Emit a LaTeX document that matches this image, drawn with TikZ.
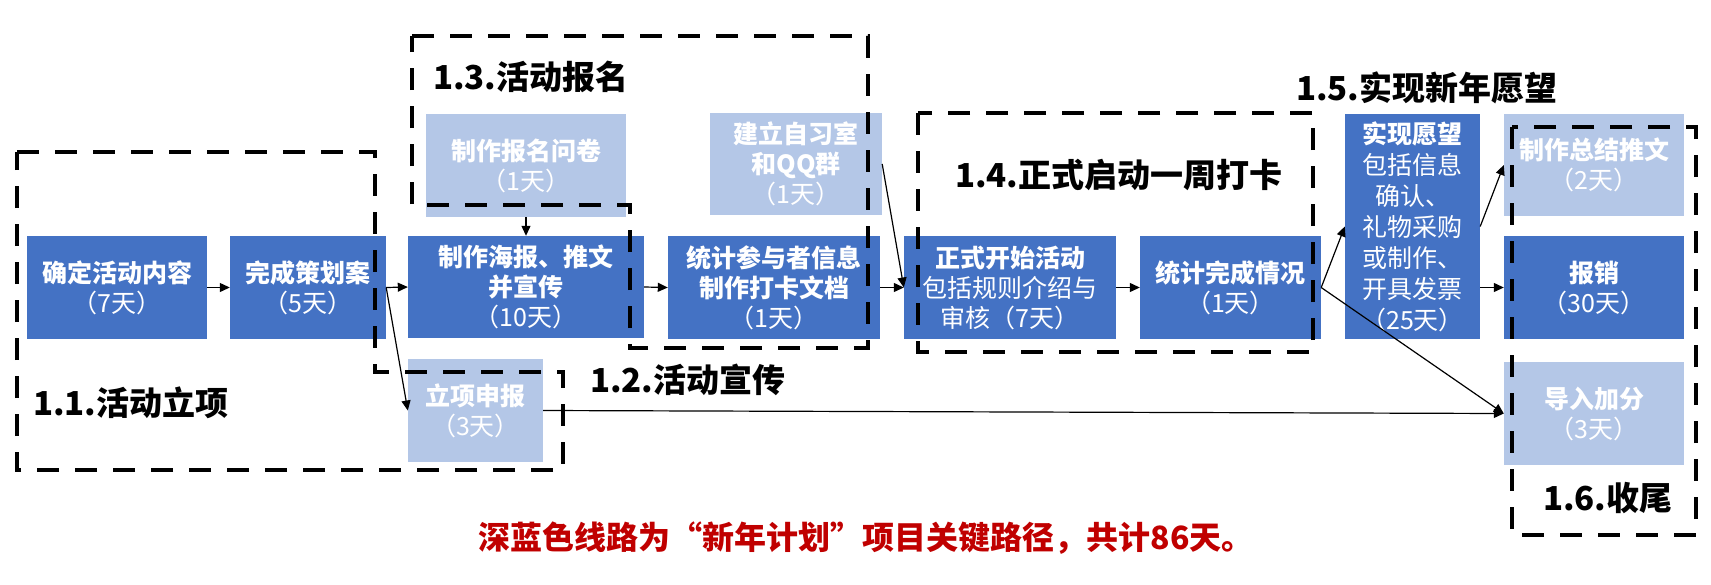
\documentclass[tikz,border=0pt]{standalone}
\usepackage{fontspec}
\setmainfont{Noto Sans CJK SC}
\usetikzlibrary{arrows.meta}
\definecolor{dkblue}{HTML}{4472C4}
\definecolor{ltblue}{HTML}{B4C7E7}
\definecolor{redtxt}{HTML}{C00000}
\tikzset{
  boxbase/.style={text=white, inner sep=0pt, align=center, font=\fontsize{25}{30}\selectfont},
  dk/.style={boxbase, fill=dkblue},
  lt/.style={boxbase, fill=ltblue},
  grp/.style={draw=black, line width=4.6pt, dash pattern=on 22pt off 16pt},
  lbl/.style={font=\fontsize{33}{40}\selectfont\bfseries, anchor=west, inner sep=0pt, text=black},
  conn/.style={draw=black, line width=1.2pt, -{Triangle[length=10pt,width=9pt]}}
}
\begin{document}
\begin{tikzpicture}[x=1pt,y=-1pt]
\useasboundingbox (0,0) rectangle (1711,584);
% boxes
\node[dk, minimum width=180pt, minimum height=103pt] (b1) at (117,287.5) {\textbf{确定活动内容}\\（7天）};
\node[dk, minimum width=156pt, minimum height=103pt] (b2) at (308,287.5) {\textbf{完成策划案}\\（5天）};
\node[dk, minimum width=236pt, minimum height=102pt] (b3) at (526,287) {\textbf{制作海报、推文}\\\textbf{并宣传}\\（10天）};
\node[lt, minimum width=200pt, minimum height=103pt] (b4) at (526,165.5) {\textbf{制作报名问卷}\\（1天）};
\node[lt, minimum width=135pt, minimum height=103pt] (b5) at (475.5,410.5) {\textbf{立项申报}\\（3天）};
\node[dk, minimum width=212pt, minimum height=103pt] (b6) at (774,287.5) {\textbf{统计参与者信息}\\\textbf{制作打卡文档}\\（1天）};
\node[lt, minimum width=172pt, minimum height=102pt] (b7) at (796,164) {\textbf{建立自习室}\\\textbf{和QQ群}\\（1天）};
\node[dk, minimum width=212pt, minimum height=103pt] (b8) at (1010,287.5) {\textbf{正式开始活动}\\包括规则介绍与\\审核（7天）};
\node[dk, minimum width=181pt, minimum height=103pt] (b9) at (1230.5,287.5) {\textbf{统计完成情况}\\（1天）};
\node[dk, minimum width=135pt, minimum height=225pt, font=\fontsize{25}{31}\selectfont] (b10) at (1412.5,226.5) {\textbf{实现愿望}\\包括信息\\确认、\\礼物采购\\或制作、\\开具发票\\（25天）};
\node[lt, minimum width=180pt, minimum height=102pt] (b11) at (1594,165) {\textbf{制作总结推文}\\（2天）};
\node[dk, minimum width=180pt, minimum height=103pt] (b12) at (1594,287.5) {\textbf{报销}\\（30天）};
\node[lt, minimum width=180pt, minimum height=103pt] (b13) at (1594,413.5) {\textbf{导入加分}\\（3天）};
% connectors
\draw[conn] (b1.east) -- (b2.west);
\draw[conn] (b2.east) -- (b3.west);
\draw[conn] (b2.east) -- (b5.west);
\draw[conn] (b4.south) -- (b3.north);
\draw[conn] (b3.east) -- (b6.west);
\draw[conn] (b6.east) -- (b8.west);
\draw[conn] (b7.east) -- (b8.west);
\draw[conn] (b8.east) -- (b9.west);
\draw[conn] (b9.east) -- (b10.west);
\draw[conn] (b9.east) -- (b13.west);
\draw[conn] (b5.east) -- (b13.west);
\draw[conn] (b10.east) -- (b11.west);
\draw[conn] (b10.east |- b12.west) -- (b12.west);
% groups
\draw[grp] (17,152) -- (375,152) -- (375,372) -- (563,372) -- (563,470) -- (17,470) -- cycle;
\draw[grp] (412,36) -- (868,36) -- (868,348) -- (630,348) -- (630,205) -- (412,205) -- cycle;
\draw[grp] (918,113) rectangle (1313,352);
\draw[grp] (1512,127) rectangle (1696,535);
% labels
\node[lbl] (l11) at (33,403) {1.1.活动立项};
\node[lbl] (l13) at (433,77) {1.3.活动报名};
\node[lbl] (l12) at (590,380) {1.2.活动宣传};
\node[lbl] (l14) at (955,175) {1.4.正式启动一周打卡};
\node[lbl] (l15) at (1296,88) {1.5.实现新年愿望};
\node[lbl] (l16) at (1543,498) {1.6.收尾};
\node[font=\fontsize{32}{38}\selectfont\bfseries, text=redtxt, inner sep=0pt] (note) at (866,538) {深蓝色线路为“新年计划”项目关键路径，共计86天。};
\end{tikzpicture}
\end{document}
